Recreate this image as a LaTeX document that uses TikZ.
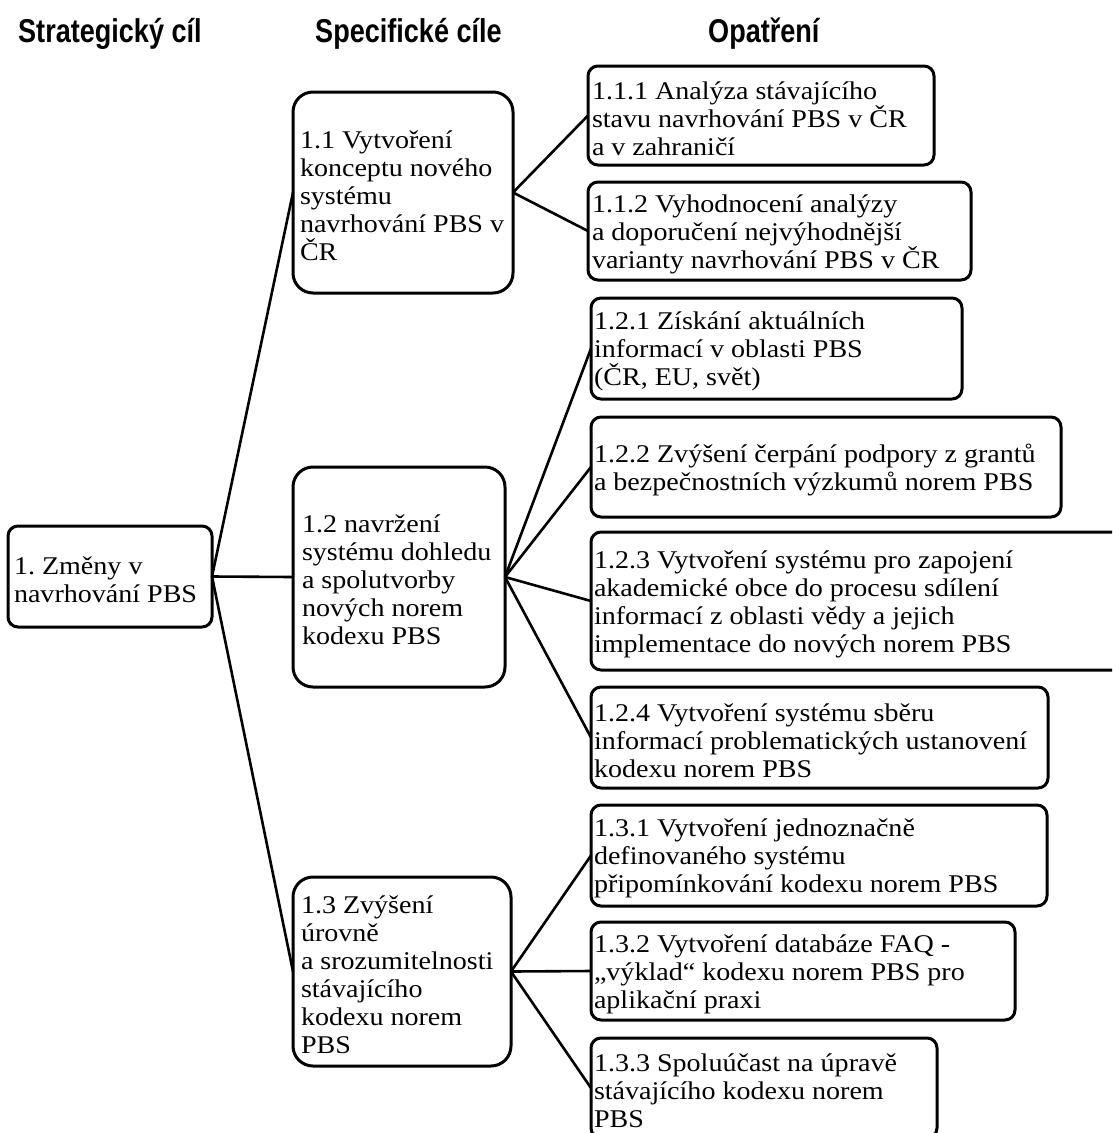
\documentclass[tikz,border=0pt]{standalone}
\usepackage{fontspec}
\setmainfont{Liberation Serif}[FakeStretch=1.10]
\newfontfamily\headfont{Liberation Sans}[FakeStretch=0.82]

\tikzset{
  pbsbox/.style={draw=black, line width=3pt, fill=white,
    inner ysep=0pt, outer sep=0pt,
    font=\fontsize{25.5}{28}\selectfont\frenchspacing},
  conn/.style={draw=black, line width=2.6pt},
  heading/.style={anchor=base west, inner sep=0pt,
    font=\headfont\bfseries\fontsize{33}{36}\selectfont}
}

% \pbsnode{name}{left}{top}{right}{bottom}{pad}{radius}{lines}
% The lines are set left-aligned in a fixed-width slot with an even
% baseline distance; long lines may run up to the border unbroken.
\newcommand\pbsnode[8]{%
  \pgfmathsetmacro{\pbsw}{#4-#2}%
  \pgfmathsetmacro{\pbsh}{#5-#3}%
  \pgfmathsetmacro{\pbstw}{#4-#2-2*#6}%
  \pgfmathsetmacro{\pbscx}{(#2+#4)/2}%
  \pgfmathsetmacro{\pbscy}{(#3+#5)/2}%
  \node[pbsbox, rounded corners=#7pt, inner xsep=#6pt,
        minimum width=\pbsw pt, minimum height=\pbsh pt]
        (#1) at (\pbscx,\pbscy)
        {\makebox[\pbstw pt][l]{\parbox{700pt}{\vspace*{6pt}\raggedright
           \lineskiplimit=-100pt\lineskip=0pt #8}}};%
}

\begin{document}
\begin{tikzpicture}[x=1pt, y=-1pt]
  \clip (0,0) rectangle (1112,1133);
  \fill[white] (0,0) rectangle (1112,1133);

  % column headings
  \node[heading] (h1) at (18,42) {Strategický cíl};
  \node[heading] (h2) at (315,42) {Specifické cíle};
  \node[heading] (h3) at (708,42) {Opatření};

  % strategic goal
  \pbsnode{root}{8}{526}{212}{627}{6}{10}{1. Změny v\\navrhování PBS}

  % specific goals
  \pbsnode{s11}{293}{92}{513}{293}{7}{20}{1.1 Vytvoření\\konceptu nového\\systému\\navrhování PBS v\\ČR}
  \pbsnode{s12}{293}{467}{505}{687}{9}{20}{1.2 navržení\\systému dohledu\\a spolutvorby\\nových norem\\kodexu PBS}
  \pbsnode{s13}{293}{877}{511}{1066}{8}{20}{1.3 Zvýšení\\úrovně\\a srozumitelnosti\\stávajícího\\kodexu norem\\PBS}

  % measures
  \pbsnode{m111}{588}{66}{934}{165}{4}{10}{1.1.1 Analýza stávajícího\\stavu navrhování PBS v ČR\\a v zahraničí}
  \pbsnode{m112}{588}{182}{971}{280}{4}{10}{1.1.2 Vyhodnocení analýzy\\a doporučení nejvýhodnější\\varianty navrhování PBS v ČR}
  \pbsnode{m121}{591}{298}{962}{399}{3}{10}{1.2.1 Získání aktuálních\\informací v oblasti PBS\\(ČR, EU, svět)}
  \pbsnode{m122}{591}{417}{1061}{517}{3}{10}{1.2.2 Zvýšení čerpání podpory z grantů\\a bezpečnostních výzkumů norem PBS}
  \pbsnode{m123}{591}{532}{1125}{670}{3}{10}{1.2.3 Vytvoření systému pro zapojení\\akademické obce do procesu sdílení\\informací z oblasti vědy a jejich\\implementace do nových norem PBS}
  \pbsnode{m124}{591}{687}{1048}{788}{3}{10}{1.2.4 Vytvoření systému sběru\\informací problematických ustanovení\\kodexu norem PBS}
  \pbsnode{m131}{591}{805}{1047}{906}{3}{10}{1.3.1 Vytvoření jednoznačně\\definovaného systému\\připomínkování kodexu norem PBS}
  \pbsnode{m132}{591}{922}{1015}{1020}{3}{10}{1.3.2 Vytvoření databáze FAQ -\\„výklad“ kodexu norem PBS pro\\aplikační praxi}
  \pbsnode{m133}{591}{1038}{937}{1138}{3}{10}{1.3.3 Spoluúčast na úpravě\\stávajícího kodexu norem\\PBS}

  % connectors
  \draw[conn] (root.east) -- (s11.west);
  \draw[conn] (root.east) -- (s12.west);
  \draw[conn] (root.east) -- (s13.west);
  \draw[conn] (s11.east) -- (m111.west);
  \draw[conn] (s11.east) -- (m112.west);
  \draw[conn] (s12.east) -- (m121.west);
  \draw[conn] (s12.east) -- (m122.west);
  \draw[conn] (s12.east) -- (m123.west);
  \draw[conn] (s12.east) -- (m124.west);
  \draw[conn] (s13.east) -- (m131.west);
  \draw[conn] (s13.east) -- (m132.west);
  \draw[conn] (s13.east) -- (m133.west);
\end{tikzpicture}
\end{document}
